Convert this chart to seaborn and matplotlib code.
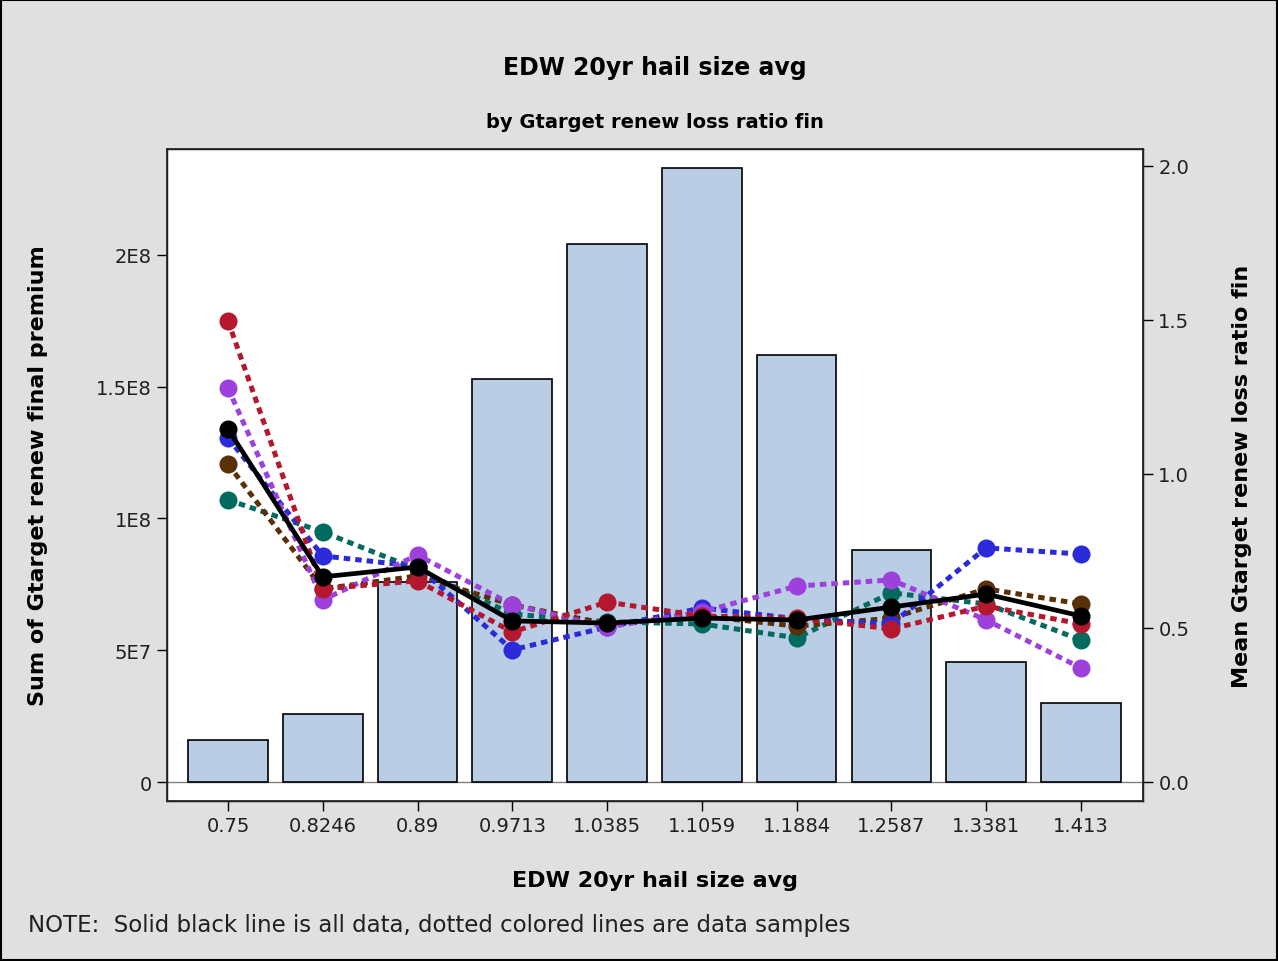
import matplotlib
matplotlib.use("Agg")
import matplotlib.pyplot as plt
import seaborn as sns
import pandas as pd
import numpy as np

categories = ["0.75", "0.8246", "0.89", "0.9713", "1.0385", "1.1059", "1.1884", "1.2587", "1.3381", "1.413"]
premium = [1.6e7, 2.6e7, 7.6e7, 1.53e8, 2.04e8, 2.33e8, 1.62e8, 8.8e7, 4.55e7, 3.0e7]

all_data = [1.146, 0.666, 0.698, 0.523, 0.516, 0.532, 0.526, 0.568, 0.610, 0.539]
sample_red = [1.497, 0.627, 0.653, 0.487, 0.584, 0.539, 0.532, 0.497, 0.571, 0.513]
sample_purple = [1.279, 0.591, 0.737, 0.575, 0.503, 0.552, 0.636, 0.656, 0.526, 0.370]
sample_blue = [1.117, 0.734, 0.700, 0.429, 0.503, 0.565, 0.530, 0.513, 0.760, 0.740]
sample_brown = [1.032, 0.627, 0.669, 0.575, 0.513, 0.539, 0.506, 0.532, 0.627, 0.578]
sample_teal = [0.916, 0.812, 0.690, 0.545, 0.520, 0.513, 0.468, 0.614, 0.578, 0.461]

samples = [
    (sample_teal, "#006b5e"),
    (sample_brown, "#5a3006"),
    (sample_blue, "#2b2bdc"),
    (sample_purple, "#9d40dc"),
    (sample_red, "#b5172e"),
]

sns.set_theme(style="white")
plt.rcParams['font.family'] = ['DejaVu Sans']
plt.rcParams['text.color'] = 'black'
plt.rcParams['axes.labelcolor'] = 'black'
plt.rcParams['xtick.color'] = 'black'
plt.rcParams['ytick.color'] = 'black'

fig = plt.figure(figsize=(12.78, 9.62), dpi=100, facecolor="#e0e0e0")
ax = fig.add_axes([167/1278, 1 - 802/962, (1143-167)/1278, (802-150)/962])
ax.set_facecolor("white")

df = pd.DataFrame({"cat": categories, "premium": premium})
sns.barplot(data=df, x="cat", y="premium", order=categories, color="#b9cde5",
            edgecolor="black", linewidth=1.2, width=0.84, saturation=1, ax=ax)
ax.axhline(0, color="#808080", lw=1, zorder=0.5)
ax.set_xlim(-0.643, 9.654)
ax.set_ylim(-7.2e6, 2.402e8)
ax.set_yticks([0, 5e7, 1e8, 1.5e8, 2e8])
ax.set_yticklabels(["0", "5E7", "1E8", "1.5E8", "2E8"])
ax.tick_params(axis="both", direction="out", length=7, width=1, color="black",
               labelsize=14, left=True, bottom=True, pad=4, labelcolor="#202020")
ax.set_xlabel("EDW 20yr hail size avg", fontsize=16, fontweight="bold")
ax.set_ylabel("Sum of Gtarget renew final premium", fontsize=16, fontweight="bold")
ax.xaxis.set_label_coords(0.5, (802 - 871) / 652, transform=ax.transAxes)
ax.yaxis.set_label_coords((48 - 167) / 976, 0.5, transform=ax.transAxes)
for s in ax.spines.values():
    s.set_color("black"); s.set_linewidth(1)

ax2 = ax.twinx()
idx = np.arange(len(categories))
for vals, col in samples:
    sns.lineplot(x=idx, y=vals, ax=ax2, color=col, lw=3.6, linestyle=(0, (1.3, 1.0)),
                 marker="o", markersize=13, markeredgecolor=col, markeredgewidth=0)
sns.lineplot(x=idx, y=all_data, ax=ax2, color="black", lw=3.4, linestyle="-",
             marker="o", markersize=13, markeredgecolor="black", markeredgewidth=0)
ax2.set_ylim(-0.0617, 2.055)
ax2.set_xlim(-0.643, 9.654)
ax2.set_yticks([0, 0.5, 1.0, 1.5, 2.0])
ax2.set_yticklabels(["0.0", "0.5", "1.0", "1.5", "2.0"])
ax2.tick_params(axis="y", direction="out", length=7, width=1, color="black",
                labelsize=14, right=True, pad=4, labelcolor="#202020")
ax2.set_ylabel("Mean Gtarget renew loss ratio fin", fontsize=16, fontweight="bold")
ax2.yaxis.set_label_coords((1232 - 167) / 976, 0.5, transform=ax2.transAxes)
ax2.grid(False)
ax.grid(False)

fig.text(655/1278, 1 - 68/962, "EDW 20yr hail size avg", ha="center", va="center",
         fontsize=17, fontweight="bold")
fig.text(655/1278, 1 - 123/962, "by Gtarget renew loss ratio fin", ha="center", va="center",
         fontsize=14, fontweight="bold")
fig.text(28/1278, 1 - 926/962, "NOTE:  Solid black line is all data, dotted colored lines are data samples",
         ha="left", va="center", fontsize=16.5, color="#202020")

fig.patches.append(plt.Rectangle((0.001, 0.001), 0.998, 0.998, transform=fig.transFigure,
                                 fill=False, edgecolor="black", lw=1.5))
fig.savefig("out.png", dpi=100, facecolor=fig.get_facecolor())
